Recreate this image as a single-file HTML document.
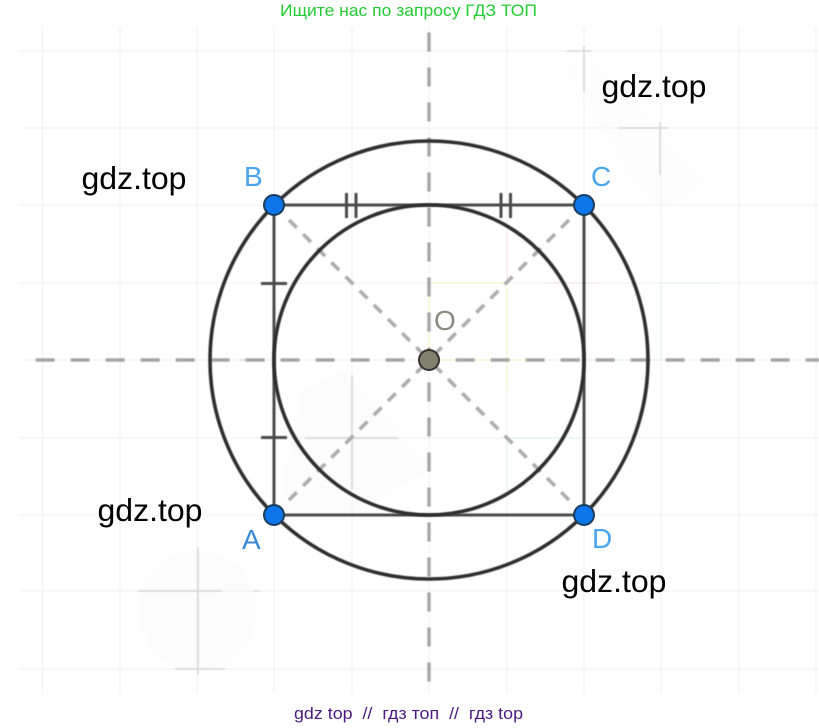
<!DOCTYPE html>
<html><head><meta charset="utf-8"><style>
html,body{margin:0;padding:0;background:#fff;width:819px;height:728px;overflow:hidden}
svg{display:block}
text{font-family:"Liberation Sans",sans-serif}
</style></head><body>
<svg width="819" height="728" viewBox="0 0 819 728" xmlns="http://www.w3.org/2000/svg">
<filter id="b"><feGaussianBlur stdDeviation="0.5"/></filter>
<filter id="b2"><feGaussianBlur stdDeviation="3"/></filter>
<!-- watermark blobs -->
<g filter="url(#b2)" fill="#fcfcfc">
<circle cx="198" cy="610" r="60"/>
<path d="M300 390L345 370L430 470L350 515L275 515L290 440Z"/>
<path d="M565 65L585 50L705 180L665 215L625 170Z" fill="#fdfdfd"/>
</g>
<!-- grid -->
<g stroke="#f2f2f2" stroke-width="1" fill="none">
<path d="M42.500 27V692M120 27V692M197 27V692M274 27V692M352 27V692M429 27V692M507 27V692M584 27V692M661 27V692M739 27V692M816 27V692"/>
<path d="M20 51H819M20 128H819M20 205H819M20 283H819M20 360H819M20 438H819M20 515H819M20 591H819M20 669H819"/>
</g>
<!-- tinted grid -->
<g stroke-width="1" fill="none">
<path d="M429 283H507V390" stroke="#f7eebc"/>
<path d="M429 283V360H530" stroke="#f7eebc"/>
<path d="M545 283H600M507 230V283" stroke="#f3dfe2"/>
<path d="M660 283H720M661 283V360H560" stroke="#d9eef0"/>
<path d="M507 438H584M507 438V490" stroke="#d9eef0"/>
</g>
<!-- watermark crosses -->
<g stroke="#d6d6d6" stroke-width="1.500" fill="none" filter="url(#b)">
<path d="M198 547V675M138 591H222M253 591H260M175 669H225"/>
<path d="M352 375V490M305 438H398"/>
<path d="M584 46V92M567 51H592"/>
<path d="M660 122V175M618 128H668"/>
<path d="M240 360H262"/>
</g>
<!-- dashed axes -->
<g stroke="#a5a5a5" stroke-width="3.400" fill="none" filter="url(#b)">
<path d="M35.700 360H819" stroke-dasharray="19 16"/>
<path d="M429 32.500V692" stroke-dasharray="19 16"/>
</g>
<!-- diagonals -->
<g stroke="#adadad" stroke-width="3.600" fill="none" filter="url(#b)" stroke-dasharray="11 9">
<path d="M289 220L429 360"/>
<path d="M289 500L429 360"/>
<path d="M569 220L429 360"/>
<path d="M569 500L429 360"/>
</g>
<!-- square -->
<g stroke="#4c4c4c" stroke-width="3" fill="none" filter="url(#b)">
<path d="M274 205H584V515H274Z"/>
<path d="M261 283.500H287M261 437.500H287"/>
<path d="M346.500 193V218M356 193V218M501 193V218M510.500 193V218"/>
</g>
<!-- circles -->
<g stroke="#2f2f2f" stroke-width="3.600" fill="none" filter="url(#b)">
<circle cx="429" cy="360" r="219"/>
<circle cx="429" cy="360" r="155"/>
</g>
<!-- points -->
<g stroke="#1d3c5c" stroke-width="2" fill="#0c76ea">
<circle cx="274" cy="205" r="10"/>
<circle cx="584" cy="205" r="10"/>
<circle cx="274" cy="515" r="10"/>
<circle cx="584" cy="515" r="10"/>
</g>
<circle cx="429" cy="360" r="10" fill="#82806e" stroke="#333" stroke-width="2"/>
<!-- point labels -->
<g font-size="28" fill="#4aa5ee">
<text x="244" y="186">B</text>
<text x="591" y="186">C</text>
<text x="242" y="549" fill="#3a8ad8">A</text>
<text x="592" y="548">D</text>
</g>
<text x="434" y="330" font-size="28" fill="#8a8a80">O</text>
<!-- watermark text -->
<g font-size="31.500" fill="#000">
<text x="601.500" y="97" textLength="105" lengthAdjust="spacingAndGlyphs">gdz.top</text>
<text x="81.500" y="189" textLength="105" lengthAdjust="spacingAndGlyphs">gdz.top</text>
<text x="97.500" y="521" textLength="105" lengthAdjust="spacingAndGlyphs">gdz.top</text>
<text x="561.500" y="592" textLength="105" lengthAdjust="spacingAndGlyphs">gdz.top</text>
</g>
<text x="280" y="16" font-size="17" fill="#22cc33" textLength="257" lengthAdjust="spacingAndGlyphs">Ищите нас по запросу ГДЗ ТОП</text>
<text x="294" y="719" font-size="17" fill="#4b1a82" textLength="229" lengthAdjust="spacingAndGlyphs" xml:space="preserve">gdz top  //  гдз топ  //  гдз top</text>
</svg>
</body></html>
